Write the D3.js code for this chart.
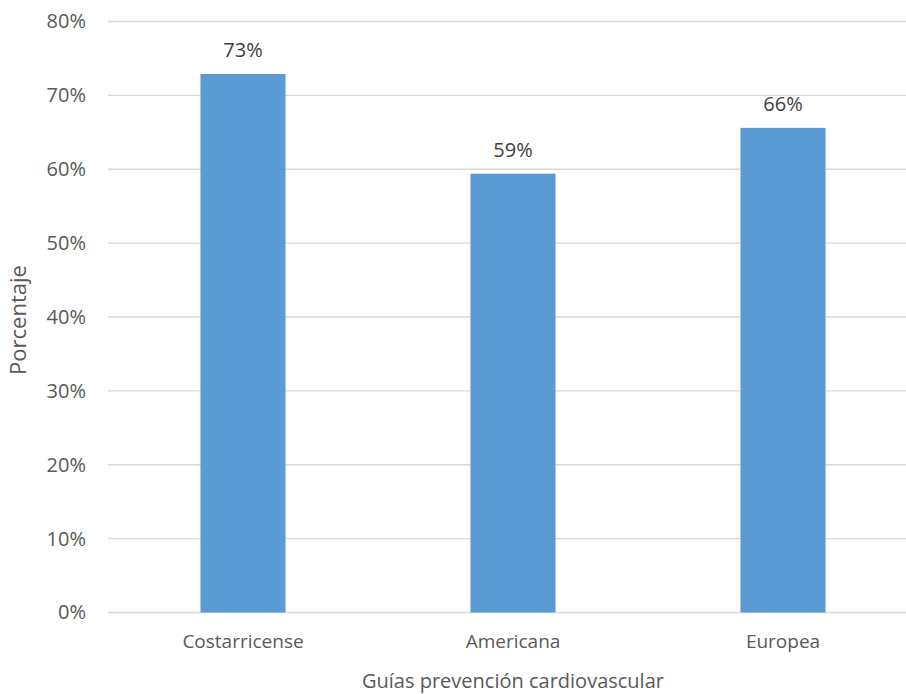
<!DOCTYPE html>
<html>
<head>
<meta charset="utf-8">
<script src="https://cdn.jsdelivr.net/npm/d3@7"></script>
<style>
  html, body { margin: 0; padding: 0; background: #fff; }
  svg { display: block; font-family: "Open Sans", "Noto Sans", sans-serif; }
</style>
</head>
<body>
<svg id="chart" width="906" height="694"></svg>
<script>
// Share of adherence by cardiovascular prevention guideline
const categories = ["Costarricense", "Americana", "Europea"];
const values = [72.9, 59.4, 65.6];
const valueLabels = ["73%", "59%", "66%"];
const yTicks = [0, 10, 20, 30, 40, 50, 60, 70, 80];

const svg = d3.select("#chart");
const textColor = "#595959";

const x = d3.scaleBand()
  .domain(categories)
  .range([108, 918])
  .paddingInner(0.685)
  .paddingOuter(0.3425);

const y = d3.scaleLinear()
  .domain([0, 80])
  .range([612.5, 21.5]);

// Horizontal gridlines
svg.append("g")
  .selectAll("line")
  .data(yTicks)
  .join("line")
  .attr("x1", 108)
  .attr("x2", 906)
  .attr("y1", d => y(d))
  .attr("y2", d => y(d))
  .attr("stroke", "#d9d9d9")
  .attr("stroke-width", 1.3);

// Y axis tick labels
const yAxis = d3.axisLeft(y)
  .tickValues(yTicks)
  .tickFormat(d => d + "%")
  .tickSize(0)
  .tickPadding(0);

svg.append("g")
  .attr("transform", "translate(86,0)")
  .call(yAxis)
  .call(g => g.select(".domain").remove())
  .call(g => g.selectAll("text")
    .attr("fill", textColor)
    .attr("font-size", 20)
    .attr("font-family", "'Open Sans', sans-serif"));

// Bars
svg.append("g")
  .selectAll("rect")
  .data(categories)
  .join("rect")
  .attr("x", d => x(d))
  .attr("width", x.bandwidth())
  .attr("y", (d, i) => y(values[i]))
  .attr("height", (d, i) => y(0) - y(values[i]))
  .attr("fill", "#5b9bd5");

// Value labels above bars
svg.append("g")
  .selectAll("text")
  .data(categories)
  .join("text")
  .attr("x", d => x(d) + x.bandwidth() / 2)
  .attr("y", (d, i) => y(values[i]) - 17)
  .attr("text-anchor", "middle")
  .attr("fill", "#404040")
  .attr("font-size", 20)
  .text((d, i) => valueLabels[i]);

// X axis category labels
const xAxis = d3.axisBottom(x).tickSize(0).tickPadding(0);
svg.append("g")
  .attr("transform", "translate(0,634)")
  .call(xAxis)
  .call(g => g.select(".domain").remove())
  .call(g => g.selectAll("text")
    .attr("fill", textColor)
    .attr("font-size", 19)
    .attr("font-family", "'Open Sans', sans-serif"));

// Axis titles
svg.append("text")
  .attr("x", 513)
  .attr("y", 688)
  .attr("text-anchor", "middle")
  .attr("fill", textColor)
  .attr("font-size", 20)
  .text("Guías prevención cardiovascular");

svg.append("text")
  .attr("transform", "translate(26,320) rotate(-90)")
  .attr("text-anchor", "middle")
  .attr("fill", textColor)
  .attr("font-size", 22)
  .text("Porcentaje");
</script>
</body>
</html>
